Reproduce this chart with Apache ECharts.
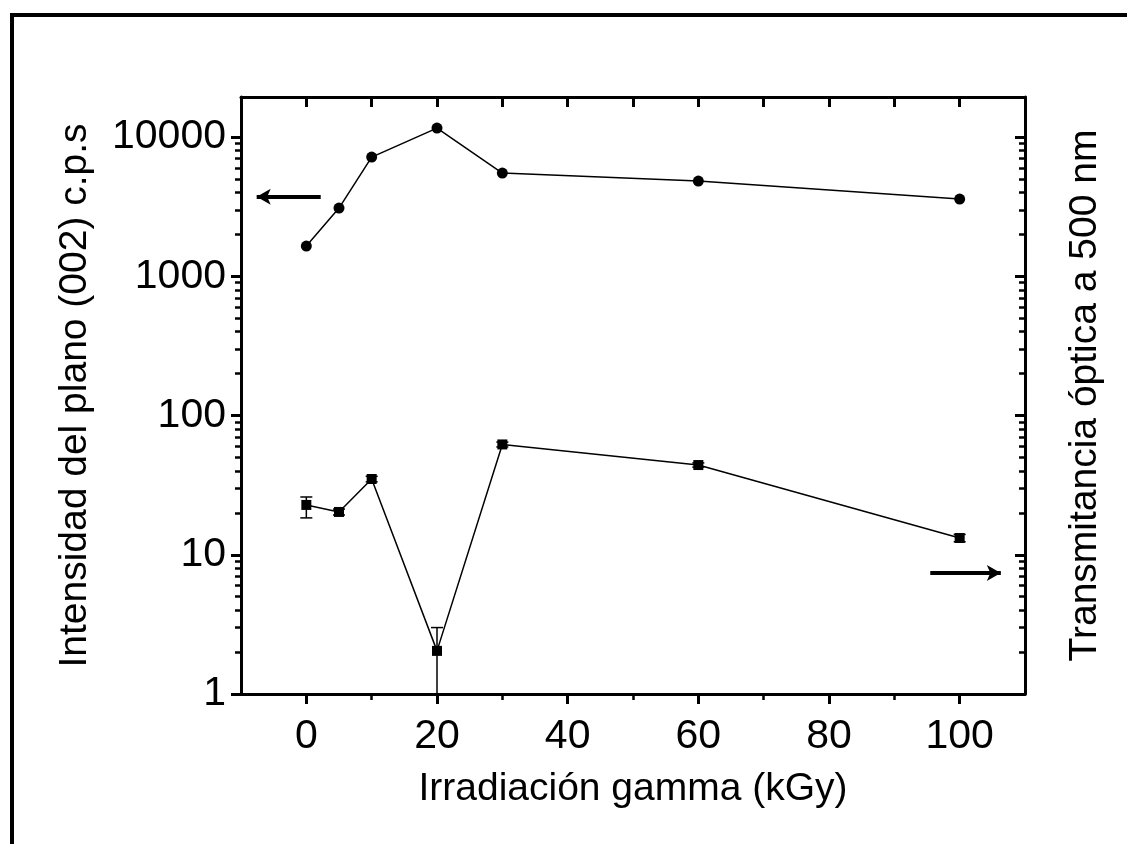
<!DOCTYPE html>
<html>
<head>
<meta charset="utf-8">
<script src="https://cdn.jsdelivr.net/npm/echarts@6/dist/echarts.min.js"></script>
<style>
  html, body { margin: 0; padding: 0; background: #fff; }
  #chart { width: 1127px; height: 844px; }
</style>
</head>
<body>
<div id="chart"></div>
<script>
// ---- data ----
const doses = [0, 5, 10, 20, 30, 60, 100];                       // Irradiación gamma (kGy)
const intensity = [1650, 3090, 7180, 11600, 5510, 4830, 3590];    // Intensidad (002) c.p.s (circles)
const transmittance = [22.8, 20.3, 35.0, 2.04, 62, 44.1, 13.2];   // Transmitancia a 500 nm (squares)
const transErrLow  = [18.4, 19.3, 33.4, 1.0, 59.5, 42.6, 12.4];
const transErrHigh = [26.0, 21.3, 36.6, 3.0, 64.5, 45.7, 14.0];

// axis ticks
const xMajorTicks = [0, 20, 40, 60, 80, 100];
const xMinorTicks = [10, 30, 50, 70, 90];
const xTopTicks = [0, 10, 20, 30, 40, 50, 60, 70, 80, 90, 100];
const yDecades = [1, 10, 100, 1000, 10000];
const yMinorMultipliers = [2, 3, 4, 5, 6, 7, 8, 9];
const X_MIN = -10, X_MAX = 110;
const Y_MIN = 1, Y_MAX = 19400;

const FONT = '"Liberation Sans", Arial, Helvetica, sans-serif';
const LOG_MAX = Math.log10(Y_MAX);
const yMajorLog = yDecades.map(v => Math.log10(v));
const yMinorLog = [];
yDecades.forEach(d => yMinorMultipliers.forEach(m => {
  const v = d * m;
  if (v <= Y_MAX) yMinorLog.push(Math.log10(v));
}));

const chart = echarts.init(document.getElementById('chart'), null, { renderer: 'canvas' });

const GRID = { left: 241, right: 102, top: 97, bottom: 150, containLabel: false };

function tickY(gridIndex, position, ticks, len, inside, width) {
  return {
    type: 'value', gridIndex: gridIndex, position: position, min: 0, max: LOG_MAX,
    axisLine: { show: false, onZero: false },
    splitLine: { show: false },
    axisLabel: { show: false },
    axisTick: { show: true, inside: inside, length: len, customValues: ticks,
                lineStyle: { color: '#000', width: width } }
  };
}

const option = {
  backgroundColor: '#ffffff',
  animation: false,
  textStyle: { fontFamily: FONT, color: '#000' },
  grid: [Object.assign({}, GRID), Object.assign({}, GRID), Object.assign({}, GRID)],
  xAxis: [
    {
      type: 'value', gridIndex: 0, position: 'bottom', min: X_MIN, max: X_MAX,
      name: 'Irradiación gamma (kGy)', nameLocation: 'middle', nameGap: 76,
      nameTextStyle: { fontSize: 39, color: '#000', fontFamily: FONT },
      axisLine: { show: true, onZero: false, lineStyle: { color: '#000', width: 3 } },
      axisTick: { show: true, length: 10, customValues: xMajorTicks, lineStyle: { color: '#000', width: 3 } },
      axisLabel: { show: true, customValues: xMajorTicks, fontSize: 41, color: '#000', margin: 22, fontFamily: FONT },
      splitLine: { show: false }
    },
    {
      type: 'value', gridIndex: 0, position: 'top', min: X_MIN, max: X_MAX,
      axisLine: { show: true, onZero: false, lineStyle: { color: '#000', width: 3 } },
      axisTick: { show: true, inside: true, length: 10, customValues: xTopTicks, lineStyle: { color: '#000', width: 3 } },
      axisLabel: { show: false },
      splitLine: { show: false }
    },
    {
      type: 'value', gridIndex: 1, position: 'bottom', min: X_MIN, max: X_MAX,
      axisLine: { show: false, onZero: false },
      axisTick: { show: true, length: 6, customValues: xMinorTicks, lineStyle: { color: '#000', width: 2.5 } },
      axisLabel: { show: false },
      splitLine: { show: false }
    },
    {
      type: 'value', gridIndex: 2, position: 'bottom', min: X_MIN, max: X_MAX, show: false
    }
  ],
  yAxis: [
    {
      type: 'log', logBase: 10, gridIndex: 0, position: 'left', min: Y_MIN, max: Y_MAX,
      name: 'Intensidad del plano (002) c.p.s', nameLocation: 'middle', nameGap: 146,
      nameTextStyle: { fontSize: 39, color: '#000', fontFamily: FONT },
      axisLine: { show: true, onZero: false, lineStyle: { color: '#000', width: 3 } },
      axisTick: { show: false },
      axisLabel: {
        show: true, fontSize: 41, color: '#000', margin: 15, fontFamily: FONT, showMaxLabel: false,
        formatter: function (v) {
          const l = Math.log10(v);
          return Math.abs(l - Math.round(l)) < 1e-6 ? String(Math.round(v)) : '';
        }
      },
      splitLine: { show: false }
    },
    {
      type: 'log', logBase: 10, gridIndex: 0, position: 'right', min: Y_MIN, max: Y_MAX,
      name: 'Transmitancia óptica a 500 nm', nameLocation: 'middle', nameGap: 41, nameRotate: 90,
      nameTextStyle: { fontSize: 39, color: '#000', fontFamily: FONT },
      axisLine: { show: true, onZero: false, lineStyle: { color: '#000', width: 3 } },
      axisTick: { show: false },
      axisLabel: { show: false },
      splitLine: { show: false }
    },
    tickY(1, 'left', yMajorLog, 10, false, 3),
    tickY(1, 'right', yMajorLog, 10, true, 3),
    tickY(2, 'left', yMinorLog, 6, false, 2.5),
    tickY(2, 'right', yMinorLog, 6, true, 2.5)
  ],
  series: [
    {
      name: 'Intensidad', type: 'line', xAxisIndex: 0, yAxisIndex: 0,
      data: doses.map((d, i) => [d, intensity[i]]),
      symbol: 'circle', symbolSize: 11,
      itemStyle: { color: '#000' },
      lineStyle: { color: '#000', width: 1.5 },
      markLine: {
        silent: true, symbolSize: [12, 14],
        lineStyle: { color: '#000', width: 4, type: 'solid' },
        label: { show: false },
        data: [
          [{ coord: [2.2, 3720], symbol: 'none' }, { coord: [-7.6, 3720], symbol: 'arrow' }],
          [{ coord: [95.5, 7.4], symbol: 'none' }, { coord: [106.3, 7.4], symbol: 'arrow' }]
        ]
      }
    },
    {
      name: 'Transmitancia', type: 'line', xAxisIndex: 0, yAxisIndex: 1,
      data: doses.map((d, i) => [d, transmittance[i]]),
      symbol: 'rect', symbolSize: 10,
      itemStyle: { color: '#000' },
      lineStyle: { color: '#000', width: 1.5 }
    },
    {
      name: 'Error', type: 'custom', xAxisIndex: 0, yAxisIndex: 1,
      data: doses.map((d, i) => [d, transErrLow[i], transErrHigh[i]]),
      encode: { x: 0, y: [1, 2] },
      clip: true,
      renderItem: function (params, api) {
        const lo = api.coord([api.value(0), api.value(1)]);
        const hi = api.coord([api.value(0), api.value(2)]);
        const w = 6;
        const style = { stroke: '#000', lineWidth: 1.5, fill: null };
        return {
          type: 'group',
          children: [
            { type: 'line', shape: { x1: lo[0], y1: lo[1], x2: hi[0], y2: hi[1] }, style: style },
            { type: 'line', shape: { x1: hi[0] - w, y1: hi[1], x2: hi[0] + w, y2: hi[1] }, style: style },
            { type: 'line', shape: { x1: lo[0] - w, y1: lo[1], x2: lo[0] + w, y2: lo[1] }, style: style }
          ]
        };
      },
      z: 1
    }
  ],
  graphic: [
    { type: 'line', shape: { x1: 10, y1: 15, x2: 1127, y2: 15 }, style: { stroke: '#000', lineWidth: 4 } },
    { type: 'line', shape: { x1: 12, y1: 13, x2: 12, y2: 844 }, style: { stroke: '#000', lineWidth: 4 } }
  ]
};

chart.setOption(option);
</script>
</body>
</html>
